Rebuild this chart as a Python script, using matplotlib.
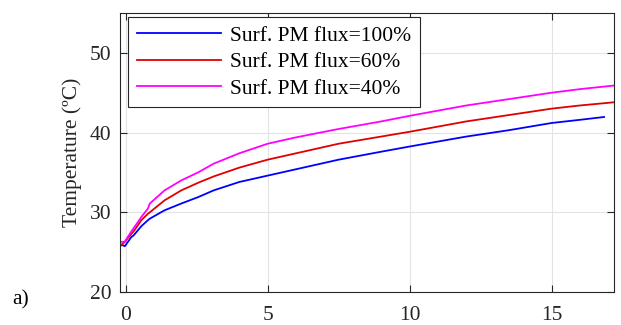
import numpy as np
import matplotlib.pyplot as plt

plt.rcParams['font.family'] = ['Liberation Serif', 'DejaVu Serif']

# time samples and temperatures for each surface PM flux level
t = [-0.2, -0.03, 0.2, 0.28, 0.55, 0.78, 0.85, 1.37, 1.96, 2.55, 3.1, 4.0, 5.0, 6.0,
     7.5, 9.0, 10.0, 12.0, 13.5, 15.0, 16.0, 17.2]
temp_100 = [26.0, 25.75, 26.9, 27.1, 28.25, 29.0, 29.2, 30.25, 31.1, 31.9, 32.75, 33.8,
            34.6, 35.4, 36.6, 37.6, 38.25, 39.5, 40.3, 41.2, 41.6, 42.1]
temp_60 = [25.7, 26.3, 27.3, 27.6, 29.0, 29.8, 30.0, 31.5, 32.75, 33.7, 34.5, 35.6,
           36.6, 37.4, 38.6, 39.5, 40.1, 41.4, 42.2, 43.0, 43.4, 43.8]
temp_40 = [26.3, 26.3, 27.6, 28.0, 29.4, 30.45, 31.1, 32.75, 34.0, 35.0, 36.1, 37.4,
           38.6, 39.4, 40.45, 41.4, 42.1, 43.4, 44.2, 45.0, 45.45, 45.9]
labels = ['Surf. PM flux=100%', 'Surf. PM flux=60%', 'Surf. PM flux=40%']
colors = ['#0000ff', '#e00000', '#ff00ff']
t_end = [16.85, 17.2, 17.2]

fig = plt.figure(figsize=(6.21, 3.25), dpi=100)
ax = fig.add_axes([120/621, 1 - 292/325, 494/621, 279/325])

for y, lab, c, te in zip([temp_100, temp_60, temp_40], labels, colors, t_end):
    tt = np.array(t)
    yy = np.array(y)
    m = tt < te
    ax.plot(np.append(tt[m], te), np.append(yy[m], np.interp(te, tt, yy)),
            color=c, lw=1.3, label=lab)

ax.set_xlim(-0.2, 17.2)
ax.set_ylim(20, 55)
ax.set_xticks([0, 5, 10, 15])
ax.set_yticks([20, 30, 40, 50])
ax.grid(True, color='#e3e3e3', lw=0.8)
ax.set_axisbelow(True)
for s in ax.spines.values():
    s.set_color('#262626')
    s.set_linewidth(0.8)
ax.tick_params(direction='in', top=True, right=True, length=5, width=0.8,
               colors='#262626', labelsize=15.5, pad=6)
ax.tick_params(axis='x', pad=10)
ax.set_ylabel('Temperature (ºC)', fontsize=15.5, color='#262626', labelpad=6)

leg = ax.legend(loc='upper left', bbox_to_anchor=(8/494, 1 - 4/279), fontsize=15.5,
                frameon=True, fancybox=False, edgecolor='#262626', framealpha=1,
                handlelength=3.9, handletextpad=0.45, borderpad=0.4, labelspacing=0.3,
                borderaxespad=0)
leg.get_frame().set_linewidth(0.8)

fig.text(12/621, 1 - 300/325, 'a)', fontsize=15.5, va='center')

fig.savefig('out.png', dpi=100)
